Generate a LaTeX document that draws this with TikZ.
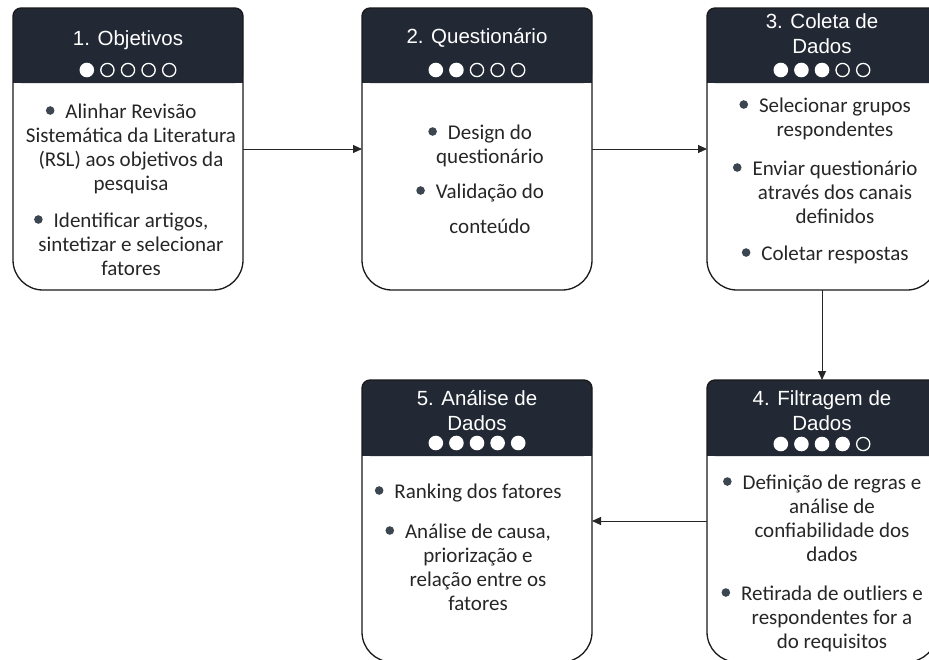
\documentclass[tikz,border=0pt]{standalone}
\usepackage{fontspec}
\setmainfont{Carlito}
\newfontfamily\titlefont{Liberation Sans}
\usetikzlibrary{arrows.meta}
\definecolor{cabec}{HTML}{232934}
\definecolor{texto}{HTML}{262626}
\definecolor{marcador}{HTML}{3B4650}
\newcommand{\marca}{\makebox[0pt][r]{\tikz[baseline=-7.5pt]\fill[marcador] (0,0) circle (4.3pt);\hspace{11pt}}}
\tikzset{
  etapa/.style={minimum width=230pt, minimum height=282pt, inner sep=0pt, outer sep=0pt},
  titulo/.style={text=white, font=\titlefont\fontsize{20.5}{24.5}\selectfont, align=center, anchor=base, inner sep=0pt},
  corpo/.style={text=texto, font=\fontsize{21}{24}\selectfont, align=center, anchor=base, inner sep=0pt},
  seta/.style={-{Triangle[length=9pt,width=8pt]}, line width=0.9pt, draw=black!85},
  borda/.style={line width=1.3pt, draw=black!90},
}
\begin{document}
\begin{tikzpicture}[x=1pt,y=-1pt]
\useasboundingbox (0,0) rectangle (929,659);
\clip (0,0) rectangle (929,659);
\node[etapa] (objetivos) at (128,149) {};
\node[etapa] (questionario) at (477,149) {};
\node[etapa] (coleta) at (822,149) {};
\node[etapa] (filtragem) at (822,521) {};
\node[etapa] (analise) at (477,521) {};
\foreach \n/\k/\h/\c in {objetivos/1/75/62, questionario/2/75/62, coleta/3/75/62, filtragem/4/76/64, analise/5/76/63} {
  \fill[cabec, rounded corners=8pt] (\n.north west) rectangle ([yshift={-\h*1pt}]\n.north east);
  \fill[cabec] ([yshift=-20pt]\n.north west) rectangle ([yshift={-\h*1pt}]\n.north east);
  \draw[borda] ([yshift=-8pt]\n.north west) arc[start angle=180, end angle=90, radius=8pt]
    -- ([xshift=-8pt]\n.north east) arc[start angle=90, end angle=0, radius=8pt]
    -- ([yshift=30pt]\n.south east) arc[start angle=0, end angle=-90, radius=30pt]
    -- ([xshift=30pt]\n.south west) arc[start angle=270, end angle=180, radius=30pt]
    -- cycle;
  \foreach \i in {1,...,5} {
    \ifnum\i>\k
      \draw[white, line width=1.3pt] ([xshift={(\i-3)*20.6pt}, yshift={-\c*1pt}]\n.north) circle (6.6pt);
    \else
      \fill[white] ([xshift={(\i-3)*20.6pt}, yshift={-\c*1pt}]\n.north) circle (7.3pt);
    \fi
  }
}
% base = baseline of the last line
\node[titulo] (t-objetivos) at (128,45) {1. Objetivos};
\node[titulo] (t-questionario) at (477,43) {2. Questionário};
\node[titulo] (t-coleta) at (822,53) {3. Coleta de\\Dados};
\node[titulo] (t-filtragem) at (822,430) {4. Filtragem de\\Dados};
\node[titulo] (t-analise) at (477,430) {5. Análise de\\Dados};
\node[corpo] (c-objetivos) at (131,275) {\marca Alinhar Revisão\\Sistemática da Literatura\\(RSL) aos objetivos da\\pesquisa\\[13pt]\marca Identificar artigos,\\sintetizar e selecionar\\fatores};
\node[corpo] (c-questionario) at (490,233) {\marca Design do\\questionário\\[11pt]\marca Validação do\\[11pt]conteúdo};
\node[corpo] (c-coleta) at (835,260) {\marca Selecionar grupos\\respondentes\\[15pt]\marca Enviar questionário\\através dos canais\\definidos\\[13pt]\marca Coletar respostas};
\node[corpo] (c-filtragem) at (832,648) {\marca Definição de regras e\\análise de\\confiabilidade dos\\dados\\[15pt]\marca Retirada de outliers e\\respondentes for a\\do requisitos};
\node[corpo] (c-analise) at (478,610) {\marca Ranking dos fatores\\[16pt]\marca Análise de causa,\\priorização e\\relação entre os\\fatores};
\draw[seta] (objetivos) -- (questionario);
\draw[seta] (questionario) -- (coleta);
\draw[seta] (coleta) -- (filtragem);
\draw[seta] (filtragem) -- (analise);
\end{tikzpicture}
\end{document}
